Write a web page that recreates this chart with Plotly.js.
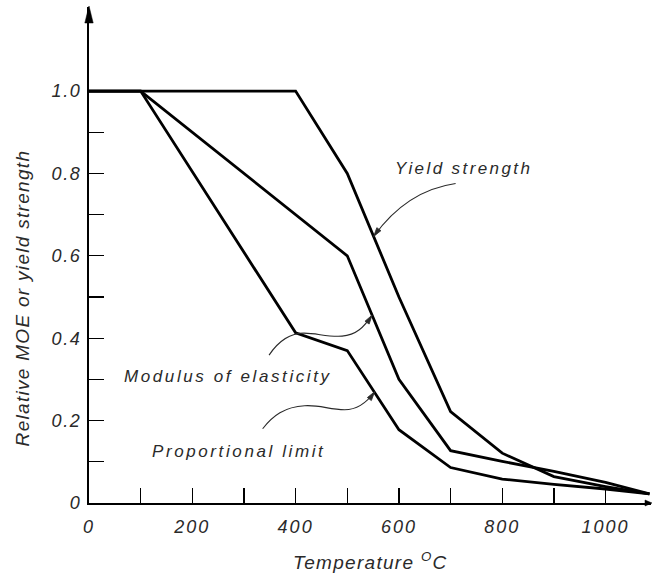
<!DOCTYPE html>
<html>
<head>
<meta charset="utf-8">
<script src="https://cdn.plot.ly/plotly-3.0.1.min.js"></script>
<style>
  html, body { margin: 0; padding: 0; background: #fff; }
  #chart { width: 652px; height: 575px; }
</style>
</head>
<body>
<div id="chart"></div>
<script>
// ---- data ----
var tempYield = [0, 400, 500, 600, 700, 800, 900, 1000, 1085];
var yieldStrength = [1.0, 1.0, 0.80, 0.50, 0.222, 0.121, 0.064, 0.040, 0.022];

var tempMoe = [0, 100, 500, 600, 700, 800, 900, 1000, 1085];
var modulusElasticity = [1.0, 1.0, 0.60, 0.30, 0.127, 0.101, 0.077, 0.050, 0.022];

var tempProp = [0, 100, 400, 500, 600, 700, 800, 900, 1000, 1085];
var proportionalLimit = [1.0, 1.0, 0.413, 0.37, 0.178, 0.086, 0.058, 0.045, 0.034, 0.022];

var xTickVals = [0, 200, 400, 600, 800, 1000];
var xTickLabels = ['0', '200', '400', '600', '800', '1000'];
var xMinorVals = [100, 300, 500, 700, 900];
var yTickVals = [0, 0.2, 0.4, 0.6, 0.8, 1.0];
var yTickLabels = ['0', '0.2', '0.4', '0.6', '0.8', '1.0'];
var yMinorVals = [0.1, 0.3, 0.5, 0.7, 0.9];

var FONT = '"Liberation Sans", Arial, sans-serif';
var INK = '#2a2a2a';

function spaced(s, px) {
  return '<span style="letter-spacing:' + px + 'px">' + s + '</span>';
}

function line(x, y, name) {
  return {
    type: 'scatter', mode: 'lines', x: x, y: y, name: name,
    line: {color: '#000', width: 2.8},
    hoverinfo: 'x+y+name', cliponaxis: false
  };
}

var traces = [
  line(tempYield, yieldStrength, 'Yield strength'),
  line(tempMoe, modulusElasticity, 'Modulus of elasticity'),
  line(tempProp, proportionalLimit, 'Proportional limit')
];

// leader curves (pixel offsets relative to the arrow tip, y upward)
function leader(tipX, tipY, curve, head) {
  return [
    {type: 'path', xref: 'x', yref: 'y', xsizemode: 'pixel', ysizemode: 'pixel',
     xanchor: tipX, yanchor: tipY, path: curve, line: {color: INK, width: 1.1}},
    {type: 'path', xref: 'x', yref: 'y', xsizemode: 'pixel', ysizemode: 'pixel',
     xanchor: tipX, yanchor: tipY, path: head, fillcolor: INK, line: {color: INK, width: 0.8}}
  ];
}

var shapes = [].concat(
  leader(551, 0.647, 'M82,53 Q33,46 0,0', 'M0,0 L7.3,5.8 L3.2,8.8 Z'),
  leader(548, 0.456, 'M-103,-40 C-93,-25 -82,-18 -68,-18 C-55,-18 -45,-22 -30,-21 C-16,-20 -8,-12 0,0',
         'M0,0 L-2.9,-8.9 L-7.1,-6.1 Z'),
  leader(553, 0.27, 'M-112,-37 C-102,-24 -90,-15 -70,-14 C-55,-13 -45,-18 -30,-18 C-18,-18 -8,-11 0,0',
         'M0,0 L-3.3,-8.8 L-7.3,-5.8 Z'),
  [
    // axis arrowheads
    {type: 'path', xref: 'paper', yref: 'paper', xsizemode: 'pixel', ysizemode: 'pixel',
     xanchor: 0, yanchor: 1, path: 'M0,1 L-4.2,-16 L4.2,-16 Z', fillcolor: '#000', line: {color: '#000', width: 0.5}},
    {type: 'path', xref: 'paper', yref: 'paper', xsizemode: 'pixel', ysizemode: 'pixel',
     xanchor: 1, yanchor: 0, path: 'M1,0 L-6,3 L-6,-3 Z', fillcolor: '#000', line: {color: '#000', width: 0.5}}
  ]
);

var annFont = {family: FONT, size: 17, color: INK, style: 'italic'};
var titleFont = {family: FONT, size: 19, color: INK, style: 'italic'};
var annotations = [
  {x: 588, y: 0.811, xref: 'x', yref: 'y', text: spaced('Yield strength', 2.4), showarrow: false,
   xanchor: 'left', yanchor: 'middle', font: annFont},
  {x: 64, y: 0.307, xref: 'x', yref: 'y', text: spaced('Modulus of elasticity', 2.6), showarrow: false,
   xanchor: 'left', yanchor: 'middle', font: annFont},
  {x: 118, y: 0.126, xref: 'x', yref: 'y', text: spaced('Proportional limit', 2.6), showarrow: false,
   xanchor: 'left', yanchor: 'middle', font: annFont},
  {x: -0.119, y: 0.497, xref: 'paper', yref: 'y',
   text: spaced('Relative MOE or yield strength', 1.3), showarrow: false,
   textangle: -90, xanchor: 'center', yanchor: 'middle', font: titleFont},
  {x: 0.5, y: -0.117, xref: 'paper', yref: 'paper',
   text: spaced('Temperature <sup>O</sup>C', 1.3), showarrow: false,
   xanchor: 'center', yanchor: 'middle', font: titleFont}
];

var layout = {
  width: 652, height: 575,
  margin: {l: 89, r: 1, t: 7, b: 72, pad: 0},
  paper_bgcolor: '#fff', plot_bgcolor: '#fff',
  showlegend: false,
  xaxis: {
    range: [0, 1088], showgrid: false, zeroline: false,
    showline: true, linecolor: '#000', linewidth: 2,
    ticks: 'inside', ticklen: 15, tickwidth: 1.3, tickcolor: '#000',
    tickmode: 'array', tickvals: xTickVals,
    ticktext: xTickLabels.map(function (t) { return spaced(t, 2); }),
    minor: {ticks: 'inside', ticklen: 15, tickwidth: 1.3, tickcolor: '#000',
            tickmode: 'array', tickvals: xMinorVals, showgrid: false},
    tickfont: {family: FONT, size: 18, color: INK, style: 'italic'},
    ticklabelstandoff: 6
  },
  yaxis: {
    range: [0, 1.204], showgrid: false, zeroline: false,
    showline: true, linecolor: '#000', linewidth: 2,
    ticks: 'inside', ticklen: 15, tickwidth: 1.3, tickcolor: '#000',
    tickmode: 'array', tickvals: yTickVals,
    ticktext: yTickLabels.map(function (t) { return spaced(t, 1.6); }),
    minor: {ticks: 'inside', ticklen: 15, tickwidth: 1.3, tickcolor: '#000',
            tickmode: 'array', tickvals: yMinorVals, showgrid: false},
    tickfont: {family: FONT, size: 18, color: INK, style: 'italic'},
    ticklabelstandoff: 2
  },
  shapes: shapes,
  annotations: annotations
};

Plotly.newPlot('chart', traces, layout, {displayModeBar: false, staticPlot: true});
</script>
</body>
</html>
